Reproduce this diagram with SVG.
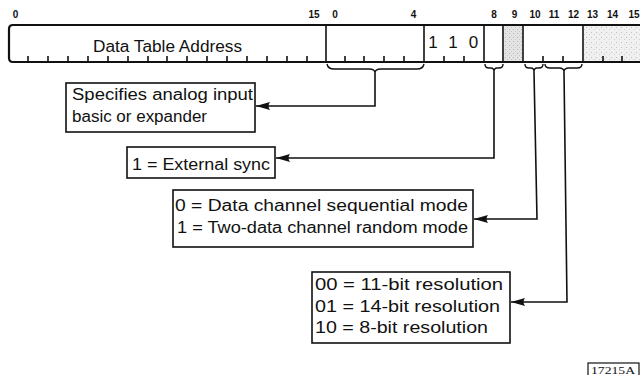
<svg xmlns="http://www.w3.org/2000/svg" width="640" height="375" viewBox="0 0 640 375">
<defs>
<style>
.t{font-family:"Liberation Sans",Arial,sans-serif;font-size:16px;fill:#111}
.n{font-family:"Liberation Sans",Arial,sans-serif;font-size:10px;font-weight:bold;fill:#111;text-anchor:middle}
.d{font-family:"Liberation Sans",Arial,sans-serif;font-size:17px;fill:#111;text-anchor:middle}
.box{fill:#fff;stroke:#111;stroke-width:1.6}
.ln{fill:none;stroke:#111;stroke-width:1.6}
.br{fill:none;stroke:#111;stroke-width:1.4}
.tk{stroke:#111;stroke-width:1.6}
.reg{fill:none;stroke:#111;stroke-width:2.2}
</style>
<pattern id="stip" width="4" height="4" patternUnits="userSpaceOnUse">
<rect width="4" height="4" fill="#e4e4e4"/>
<rect x="1" y="1" width="1" height="1" fill="#b0b0b0"/>
<rect x="3" y="3" width="1" height="1" fill="#c4c4c4"/>
</pattern>
<pattern id="stip2" width="5" height="5" patternUnits="userSpaceOnUse">
<rect width="5" height="5" fill="#f0f0f0"/>
<rect x="1" y="2" width="1" height="1" fill="#c0c0c0"/>
<rect x="4" y="4" width="1" height="1" fill="#d0d0d0"/>
</pattern>
<marker id="ah" viewBox="0 0 14 8" refX="14" refY="4" markerWidth="14" markerHeight="8" markerUnits="userSpaceOnUse" orient="auto">
<path d="M0,0 L14,4 L0,8 Q3,4 0,0 z" fill="#111"/>
</marker>
</defs>

<g id="register">
<rect x="504" y="26" width="18" height="35" fill="url(#stip)"/>
<rect x="584" y="26" width="56" height="35" fill="url(#stip2)"/>
<path class="reg" d="M641,25 H13 Q9,25 9,29 V58 Q9,62 13,62 H641"/>
<g class="tk">
<line x1="326" y1="25" x2="326" y2="62"/>
<line x1="424" y1="25" x2="424" y2="62"/>
<line x1="484" y1="25" x2="484" y2="62"/>
<line x1="503" y1="25" x2="503" y2="62"/>
<line x1="523" y1="25" x2="523" y2="62"/>
<line x1="583" y1="25" x2="583" y2="62"/>
</g>
<path class="tk" d="M28,56V62M48,56V62M68,56V62M88,56V62M108,56V62M128,56V62M148,56V62M167,56V62M187,56V62M207,56V62M227,56V62M247,56V62M267,56V62M287,56V62M307,56V62M345,56V62M364,56V62M384,56V62M404,56V62M444,56V62M464,56V62M543,56V62M563,56V62M603,56V62M622,56V62"/>
<text class="n" x="15.5" y="18">0</text>
<text class="n" x="314" y="18">15</text>
<text class="n" x="335" y="18">0</text>
<text class="n" x="413.5" y="18">4</text>
<text class="n" x="494" y="18">8</text>
<text class="n" x="514.5" y="18">9</text>
<text class="n" x="535" y="18">10</text>
<text class="n" x="554" y="18">11</text>
<text class="n" x="573.5" y="18">12</text>
<text class="n" x="592.5" y="18">13</text>
<text class="n" x="612.5" y="18">14</text>
<text class="n" x="634" y="18">15</text>
<text class="t" x="93" y="52" font-size="17" textLength="149" lengthAdjust="spacingAndGlyphs">Data Table Address</text>
<text class="d" x="433" y="48">1</text>
<text class="d" x="453" y="48">1</text>
<text class="d" x="473.5" y="48">0</text>
</g>

<g id="connectors">
<path class="br" d="M327,64 Q328,69 334,69 H369 Q375,69 375,73 Q375,69 381,69 H417 Q423,69 424,64"/>
<path class="br" d="M485,64 Q485,68 489,68 H491 Q494,68 494,72 Q494,68 497,68 H499 Q503,68 503,64"/>
<path class="br" d="M525,64 Q525,68 529,68 H531 Q534,68 534,72 Q534,68 537,68 H539 Q543,68 543,64"/>
<path class="br" d="M545,64 Q545,68 550,68 H559 Q564,68 564,72 Q564,68 569,68 H577 Q582,68 582,64"/>
<path class="ln" d="M375,73 V106 H256" marker-end="url(#ah)"/>
<path class="ln" d="M494,72 V158 H276" marker-end="url(#ah)"/>
<path class="ln" d="M534,72 L537,219 H474" marker-end="url(#ah)"/>
<path class="ln" d="M564,72 L567,302 H511" marker-end="url(#ah)"/>
</g>

<g id="box-analog">
<rect class="box" x="66" y="83" width="189" height="49"/>
<text class="t" x="72" y="100" textLength="181" lengthAdjust="spacingAndGlyphs">Specifies analog input</text>
<text class="t" x="72" y="122" textLength="135" lengthAdjust="spacingAndGlyphs">basic or expander</text>
</g>

<g id="box-sync">
<rect class="box" x="127" y="147" width="148" height="31"/>
<text class="t" x="132" y="170" textLength="138" lengthAdjust="spacingAndGlyphs">1 = External sync</text>
</g>

<g id="box-mode">
<rect class="box" x="173" y="190" width="300" height="57"/>
<text class="t" x="175" y="211" textLength="293" lengthAdjust="spacingAndGlyphs">0 = Data channel sequential mode</text>
<text class="t" x="177" y="233" textLength="291" lengthAdjust="spacingAndGlyphs">1 = Two-data channel random mode</text>
</g>

<g id="box-resolution">
<rect class="box" x="312" y="272" width="198" height="71"/>
<text class="t" x="315" y="290" textLength="188" lengthAdjust="spacingAndGlyphs">00 = 11-bit resolution</text>
<text class="t" x="315" y="312" textLength="185" lengthAdjust="spacingAndGlyphs">01 = 14-bit resolution</text>
<text class="t" x="315" y="333" textLength="173" lengthAdjust="spacingAndGlyphs">10 = 8-bit resolution</text>
</g>

<g id="figure-label">
<rect x="588" y="363" width="51" height="14" fill="#fff" stroke="#111" stroke-width="1.2"/>
<text x="591" y="374" font-family="'Liberation Serif','Times New Roman',serif" font-size="11" fill="#111" textLength="44" lengthAdjust="spacingAndGlyphs">17215A</text>
</g>
</svg>
